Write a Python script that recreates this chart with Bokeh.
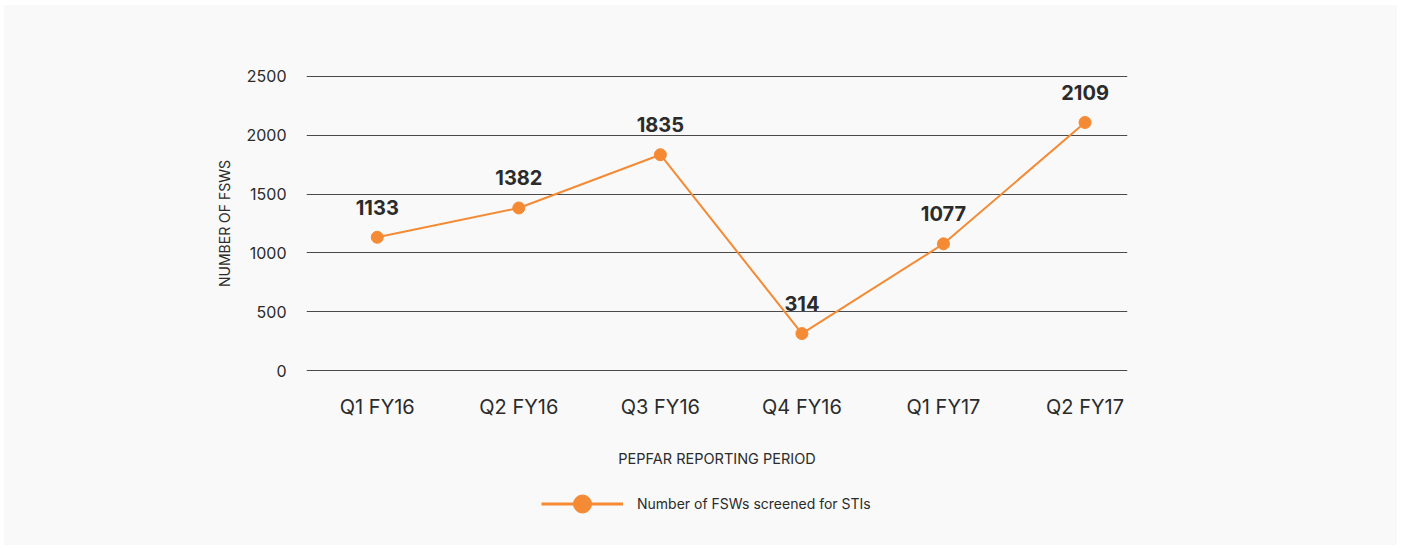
from bokeh.plotting import figure
from bokeh.layouts import column, row
from bokeh.models import Range1d, FixedTicker, ColumnDataSource, Legend, LegendItem, Spacer
from bokeh.core.properties import value
from bokeh.embed import file_html
from bokeh.resources import INLINE

# ---- data ----
periods = ["Q1 FY16", "Q2 FY16", "Q3 FY16", "Q4 FY16", "Q1 FY17", "Q2 FY17"]
screened = [1133, 1382, 1835, 314, 1077, 2109]
y_ticks = [0, 500, 1000, 1500, 2000, 2500]
series_name = "Number of FSWs screened for STIs"
x_title = "PEPFAR REPORTING PERIOD"
y_title = "NUMBER OF FSWS"

FONT = "Inter"
ORANGE = "#f58a35"
BG = "#f8f9f8"
TXT = "#2b2b2b"

xs = list(range(len(periods)))
src = ColumnDataSource(dict(x=xs, y=screened, label=[str(v) for v in screened]))

p = figure(width=1393, height=475, output_backend="svg", toolbar_location=None,
           x_range=Range1d(-0.5, 5.3), y_range=Range1d(-17, 2517),
           min_border_left=302, min_border_right=270,
           min_border_top=69, min_border_bottom=108)
p.background_fill_color = BG
p.border_fill_color = BG
p.outline_line_color = None

# axes
p.xaxis.ticker = FixedTicker(ticks=xs)
p.xaxis.major_label_overrides = {i: s for i, s in enumerate(periods)}
p.yaxis.ticker = FixedTicker(ticks=y_ticks)
for ax in (p.xaxis, p.yaxis):
    ax.axis_line_color = None
    ax.major_tick_line_color = None
    ax.minor_tick_line_color = None
    ax.major_label_text_font = FONT
    ax.major_label_text_color = TXT
    ax.axis_label_text_font = FONT
    ax.axis_label_text_font_style = "normal"
    ax.axis_label_text_color = TXT
    ax.axis_label_text_font_size = "14.5px"
p.xaxis.major_label_text_font_size = "20px"
p.yaxis.major_label_text_font_size = "16px"
p.xaxis.major_label_standoff = 16
p.yaxis.major_label_standoff = 14
p.xaxis.axis_label = x_title
p.yaxis.axis_label = y_title
p.xaxis.axis_label_standoff = 28
p.yaxis.axis_label_standoff = 10
p.yaxis.axis_label_text_font_size = "14px"

p.xgrid.grid_line_color = None
p.ygrid.grid_line_color = "#4a4a4a"
p.ygrid.grid_line_width = 1

# series
p.line("x", "y", source=src, line_color=ORANGE, line_width=2)
p.scatter("x", "y", source=src, size=12, fill_color=ORANGE, line_color=ORANGE)
p.text("x", "y", text="label", source=src, y_offset=-30,
       text_align="center", text_baseline="middle",
       text_font=value(FONT), text_font_style="bold",
       text_font_size="20px", text_color=TXT)

# ---- legend strip below the chart ----
lf = figure(width=1393, height=65, output_backend="svg", toolbar_location=None,
            x_axis_type=None, y_axis_type=None,
            x_range=Range1d(0, 1), y_range=Range1d(0, 1),
            min_border_left=302, min_border_right=270,
            min_border_top=0, min_border_bottom=0)
lf.background_fill_color = BG
lf.border_fill_color = BG
lf.outline_line_color = None
off = ColumnDataSource(dict(x=[-10], y=[-10]))  # off-range: only the legend glyph shows
lg_line = lf.line("x", "y", source=off, line_color=ORANGE, line_width=3)
lg_dot = lf.scatter("x", "y", source=off, size=18, fill_color=ORANGE, line_color=ORANGE)
legend = Legend(items=[LegendItem(label=series_name, renderers=[lg_line, lg_dot])],
                location=(235, 19), orientation="horizontal",
                glyph_width=82, glyph_height=45, label_standoff=14,
                padding=0, margin=0, border_line_color=None,
                background_fill_alpha=0, label_text_font=FONT,
                label_text_font_size="14px", label_text_color=TXT,
                click_policy="none")
lf.add_layout(legend, "center")

inner = column(p, lf, spacing=0, styles={"background-color": BG})
page = row(Spacer(width=4), column(Spacer(height=5), inner, spacing=0), spacing=0)
open("out.html", "w").write(file_html(page, INLINE))
